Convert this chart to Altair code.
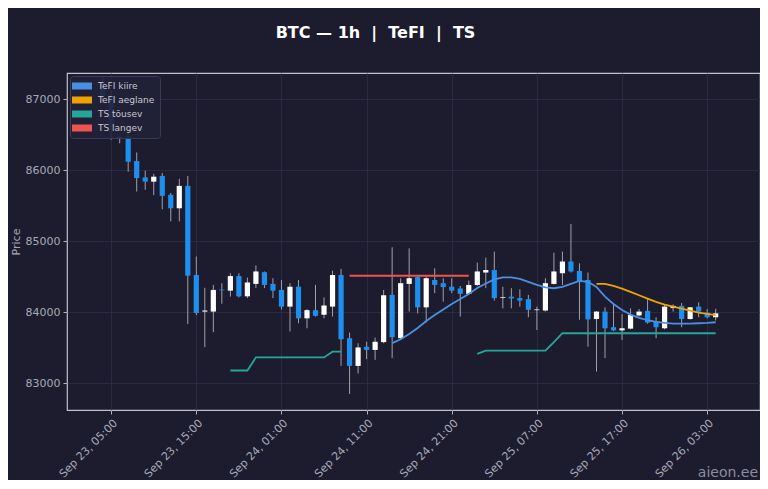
import altair as alt
import pandas as pd

# candles, hourly from Sep 23 04:00
opens = [87250, 87050, 86450, 86480, 86130, 85900, 85840, 85920, 85655, 85465,
         85780, 84525, 84010, 84010, 84320, 84305, 84510, 84225, 84400, 84565,
         84400, 84315, 84080, 84360, 83915, 84030, 83965, 84080, 84525, 83635,
         83245, 83515, 83470, 83580, 84245, 83635, 84400, 84495, 84070, 84455,
         84410, 84360, 84335, 84260, 84385, 84560, 84595, 84205, 84220, 84200,
         84185, 84030, 84025, 84400, 84550, 84715, 84580, 84455, 83905, 84010,
         83790, 83745, 83770, 83955, 84020, 83870, 83775, 84060, 84090, 83905,
         84080, 83995, 83930]
highs = [87320, 87120, 86480, 86520, 86250, 85995, 85950, 85960, 85680, 85880,
         85920, 84785, 84345, 84385, 84410, 84550, 84550, 84490, 84660, 84575,
         84480, 84455, 84410, 84455, 84045, 84385, 84210, 84585, 84610, 83715,
         83565, 83585, 83645, 84315, 84915, 84480, 84900, 84525, 84505, 84620,
         84480, 84480, 84370, 84445, 84700, 84770, 84855, 84360, 84340, 84325,
         84245, 84080, 84480, 84840, 84855, 85245, 84690, 84560, 84015, 84070,
         84105, 83975, 84055, 84045, 84185, 83930, 84115, 84110, 84130, 84075,
         84140, 84045, 84050]
lows = [86950, 86430, 86380, 85980, 85700, 85725, 85650, 85450, 85280, 85280,
        83835, 83960, 83510, 83720, 84120, 84220, 84210, 84200, 84340, 84340,
        84200, 84040, 83730, 83845, 83775, 83940, 83915, 83940, 83245, 82850,
        83140, 83340, 83330, 83565, 83355, 83610, 84010, 83985, 83855, 84270,
        84150, 84270, 83940, 84250, 84370, 84340, 84165, 84055, 84055, 84080,
        83930, 83750, 84010, 84390, 84385, 84560, 83895, 83515, 83165, 83355,
        83735, 83610, 83760, 83940, 83840, 83635, 83760, 84010, 83790, 83900,
        83930, 83915, 83885]
closes = [87050, 86610, 86465, 86120, 85890, 85840, 85910, 85640, 85465, 85780,
          84515, 83990, 84025, 84315, 84310, 84510, 84225, 84420, 84575, 84385,
          84305, 84080, 84360, 83915, 84030, 83950, 84095, 84525, 83620, 83245,
          83505, 83470, 83585, 84240, 83650, 84410, 84480, 84070, 84480, 84385,
          84355, 84305, 84260, 84385, 84575, 84595, 84200, 84215, 84195, 84165,
          84035, 84040, 84410, 84575, 84715, 84575, 84440, 83900, 84010, 83775,
          83745, 83775, 83965, 84010, 83855, 83790, 84080, 84090, 83905, 84070,
          84010, 83930, 83985]

# indicator lines (start index into the candle list, values)
tefi_fast_start = 34
tefi_fast = [83565, 83621, 83695, 83780, 83878, 83963, 84040, 84118, 84188, 84259,
             84343, 84406, 84463, 84491, 84491, 84470, 84428, 84385, 84350, 84339,
             84357, 84399, 84442, 84430, 84357, 84221, 84118, 84033, 83967, 83921,
             83888, 83864, 83850, 83840, 83840, 83840, 83846, 83850, 83860]
tefi_slow_start = 58
tefi_slow = [84399, 84399, 84371, 84333, 84287, 84240, 84192, 84146, 84108, 84080,
             84052, 84023, 83995, 83977, 83959]
ts_up1_start = 15
ts_up1 = [83180, 83180, 83180, 83365, 83365, 83365, 83365, 83365, 83365, 83365,
          83365, 83365, 83445, 83445]
ts_up2_start = 44
ts_up2 = [83415, 83460, 83460, 83460, 83460, 83460, 83460, 83460, 83460, 83580,
          83705, 83705, 83705, 83705, 83705, 83705, 83705, 83705, 83705, 83705,
          83705, 83705, 83705, 83705, 83705, 83705, 83705, 83705, 83705]
ts_down_start = 29
ts_down = [84515, 84515, 84515, 84515, 84515, 84515, 84515, 84515, 84515, 84515,
           84515, 84515, 84515, 84515, 84515]

series_names = ["TeFI kiire", "TeFI aeglane", "TS tõusev", "TS langev"]
series_colors = ["#4a90e2", "#f0a202", "#26a69a", "#ef5350"]

times = pd.date_range("2025-09-23 04:00", periods=len(opens), freq="h")
candles = pd.DataFrame({"t": times, "open": opens, "high": highs,
                        "low": lows, "close": closes})

rows = []
for name, seg, start, vals in [
    ("TeFI kiire", "a", tefi_fast_start, tefi_fast),
    ("TeFI aeglane", "b", tefi_slow_start, tefi_slow),
    ("TS tõusev", "c", ts_up1_start, ts_up1),
    ("TS tõusev", "d", ts_up2_start, ts_up2),
    ("TS langev", "e", ts_down_start, ts_down),
]:
    for i, v in enumerate(vals):
        rows.append({"t": times[start + i], "value": v, "series": name, "seg": seg})
lines = pd.DataFrame(rows)

BG = "#1c1c2e"
TXT = "#a8a8b8"

x_ticks = [alt.DateTime(year=2025, month=9, date=23 + (5 + 10 * k) // 24,
                        hours=(5 + 10 * k) % 24) for k in range(8)]
x_scale = alt.Scale(domain=[alt.DateTime(year=2025, month=9, date=23, hours=0, minutes=24),
                            alt.DateTime(year=2025, month=9, date=26, hours=8, minutes=37)])
y_scale = alt.Scale(domain=[82624, 87370], nice=False, zero=False)

x_enc = alt.X("t:T", scale=x_scale, title=None,
              axis=alt.Axis(values=x_ticks, format="%b %d, %H:%M", labelAngle=-45,
                            labelFontSize=11))
y_enc = alt.Y("low:Q", scale=y_scale, title="Price",
              axis=alt.Axis(values=[83000, 84000, 85000, 86000, 87000], format="d"))

wicks = alt.Chart(candles).mark_rule(color="#a0a0a8", strokeWidth=1).encode(
    x=x_enc, y=y_enc, y2="high:Q")

bodies = alt.Chart(candles).mark_bar(size=5.2).encode(
    x="t:T",
    y="open:Q",
    y2="close:Q",
    color=alt.condition("datum.close >= datum.open", alt.value("#ffffff"),
                        alt.value("#1e8fef")),
)

color_scale = alt.Scale(domain=series_names, range=series_colors)

overlay = alt.Chart(lines).mark_line(strokeWidth=1.8).encode(
    x="t:T",
    y="value:Q",
    detail="seg:N",
    color=alt.Color("series:N", scale=color_scale, sort=series_names, legend=None),
)

# filled patches for the legend (layer draws nothing itself)
legend = alt.Legend(
    title=None, orient="top-left", offset=3,
    fillColor="rgba(33,33,56,0.9)", strokeColor="#3a3a52", padding=5, cornerRadius=3,
    labelColor="#c8c8d0", labelFontSize=9, labelOffset=11,
    symbolType="M-2,-0.7H2V0.7H-2Z", symbolSize=100, symbolOffset=2,
    symbolStrokeWidth=0, rowPadding=4,
)
legend_layer = alt.Chart(lines).mark_square(opacity=1, filled=True, size=0).encode(
    x="t:T",
    y="value:Q",
    color=alt.Color("series:N", scale=color_scale, sort=series_names, legend=legend),
)

mark_txt = alt.Chart(pd.DataFrame({"txt": ["aieon.ee"]})).mark_text(
    align="right", baseline="middle", fontSize=14, color="#8c8c9c").encode(
    x=alt.value(691), y=alt.value(400), text="txt:N")

chart = alt.layer(wicks, bodies, overlay, legend_layer, mark_txt).resolve_scale(
    color="independent"
).resolve_legend(
    color="independent"
).properties(
    width=693,
    height=337,
    autosize=alt.AutoSizeParams(type="none"),
    padding={"left": 59, "top": 65, "right": 0, "bottom": 70},
    background=BG,
    title=alt.TitleParams("BTC — 1h\u00a0\u00a0|\u00a0\u00a0TeFI\u00a0\u00a0|\u00a0\u00a0TS",
                          fontSize=16, fontWeight="bold", color="#ffffff",
                          anchor="middle", dx=-38, offset=32),
).configure(
    font="DejaVu Sans",
).configure_view(
    stroke="#c0c0cc", strokeWidth=1.2, fill=BG,
).configure_axis(
    domain=False,
    grid=True,
    gridColor="#2e2e46",
    gridWidth=0.8,
    tickColor="#b0b0c0",
    tickSize=4,
    labelColor=TXT,
    labelFontSize=11,
    labelPadding=3,
    titleColor=TXT,
    titleFontSize=11,
    titleFontWeight="normal",
)

chart.save("out.html", embed_options={"renderer": "svg", "actions": False})
